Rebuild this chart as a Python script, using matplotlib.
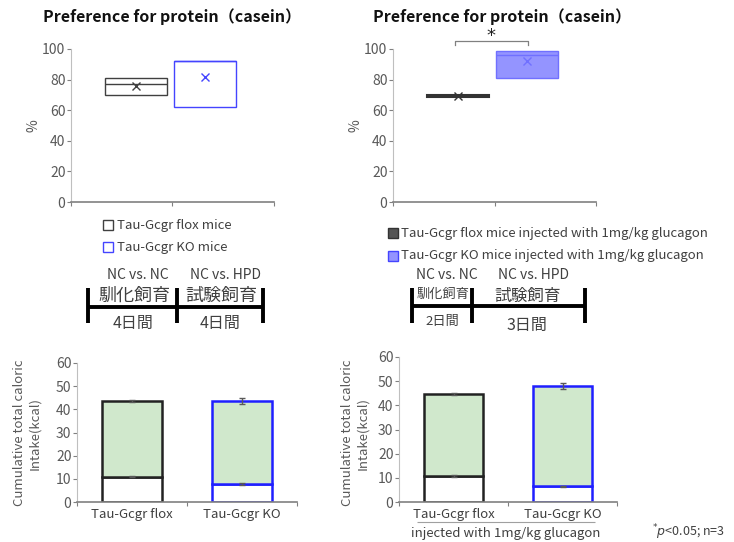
import matplotlib
matplotlib.use("Agg")
import matplotlib.pyplot as plt
from matplotlib.patches import Rectangle

plt.rcParams["font.family"] = ["Noto Sans CJK JP", "DejaVu Sans"]

# preference for protein (box plots)
pref_labels_a = ["Tau-Gcgr flox mice", "Tau-Gcgr KO mice"]
pref_q1_a = [70, 62]
pref_med_a = [77, 92]
pref_q3_a = [81, 92]
pref_mean_a = [76, 82]

pref_labels_b = ["Tau-Gcgr flox mice injected with 1mg/kg glucagon",
                 "Tau-Gcgr KO mice injected with 1mg/kg glucagon"]
pref_q1_b = [68.5, 81]
pref_med_b = [69.5, 96]
pref_q3_b = [70, 99]
pref_mean_b = [69, 92]

# cumulative caloric intake (stacked bars)
groups = ["Tau-Gcgr flox", "Tau-Gcgr KO"]
nc_a = [11.0, 7.9]
nc_err_a = [0.3, 0.5]
total_a = [43.6, 43.6]
total_err_a = [0.3, 1.1]
nc_b = [10.7, 6.5]
nc_err_b = [0.4, 0.3]
total_b = [44.7, 48.0]
total_err_b = [0.4, 1.2]

W, H = 734, 542
TXT = "#404040"
BLUE = "#1f1fff"
GREEN = "#d0e8cc"


def rect(x0, y0, x1, y1):
    return [x0 / W, 1 - y1 / H, (x1 - x0) / W, (y1 - y0) / H]


def style(ax, ymax, step):
    for s in ["top", "right"]:
        ax.spines[s].set_visible(False)
    ax.spines["left"].set_color("#bfbfbf")
    ax.spines["bottom"].set_color("#808080")
    ax.spines["bottom"].set_linewidth(1.2)
    ax.set_ylim(0, ymax)
    ax.set_yticks(range(0, ymax + 1, step))
    ax.tick_params(axis="y", colors="#808080", labelcolor="#595959",
                   labelsize=10, length=3, pad=1)
    ax.tick_params(axis="x", colors="#808080", length=3)
    ax.set_xlim(0, 2)
    ax.set_xticks([0, 1, 2])
    ax.set_xticklabels([])


fig = plt.figure(figsize=(W / 100, H / 100), dpi=100)
ov = fig.add_axes([0, 0, 1, 1])
ov.set_xlim(0, W)
ov.set_ylim(H, 0)
ov.axis("off")


def boxes(ax, q1, med, q3, mean, faces, edges, lw):
    stats = [dict(q1=a, med=m, q3=b, whislo=a, whishi=b, mean=mu, fliers=[])
             for a, m, b, mu in zip(q1, med, q3, mean)]
    res = ax.bxp(stats, positions=[0.64, 1.32], widths=0.61, showmeans=True,
                 showcaps=False, patch_artist=True, manage_ticks=False)
    for i in range(len(stats)):
        res["boxes"][i].set(facecolor=faces[i], edgecolor=edges[i], linewidth=lw[i])
        res["medians"][i].set(color=edges[i], linewidth=lw[i])
        res["means"][i].set(marker="x", markeredgecolor=edges[i],
                            markerfacecolor=edges[i], markersize=6)
    for w in res["whiskers"]:
        w.set_visible(False)


ax1 = fig.add_axes(rect(71, 49, 274, 202))
style(ax1, 100, 20)
boxes(ax1, pref_q1_a, pref_med_a, pref_q3_a, pref_mean_a,
      ["white", "white"], ["#404040", "#4444ff"], [1.0, 1.0])

ax2 = fig.add_axes(rect(393, 49, 596, 202))
style(ax2, 100, 20)
boxes(ax2, pref_q1_b, pref_med_b, pref_q3_b, pref_mean_b,
      ["#555555", "#9494ff"], ["#333333", "#7070ff"], [1.5, 1.0])
ax2.plot([0.61, 0.61, 1.33, 1.33], [102.8, 105.3, 105.3, 102.8],
         color="#808080", lw=0.9, clip_on=False)
ax2.text(0.97, 108.5, "*", ha="center", va="center", fontsize=13,
         color="#222222", family="DejaVu Sans")

for x, y in [(43, 17), (373, 17)]:
    ov.text(x, y, "Preference for protein（casein）", fontsize=11.5,
            fontweight="bold", ha="left", va="center", color="#111111")
for x in [34, 356]:
    ov.text(x, 126, "%", rotation=90, fontsize=10, ha="center", va="center",
            color="#595959")

# legends
leg_a = [("white", "#404040"), ("white", "#4444ff")]
for i, (lab, (fc, ec)) in enumerate(zip(pref_labels_a, leg_a)):
    y = 225 + 22 * i
    ov.add_patch(Rectangle((103, y - 5), 10, 10, facecolor=fc, edgecolor=ec, lw=1))
    ov.text(117, y, lab, fontsize=9.5, ha="left", va="center", color=TXT)
leg_b = [("#555555", "#333333"), ("#9494ff", "#4444ff")]
for i, (lab, (fc, ec)) in enumerate(zip(pref_labels_b, leg_b)):
    y = 233 + 23 * i
    ov.add_patch(Rectangle((388, y - 5), 10, 10, facecolor=fc, edgecolor=ec, lw=1))
    ov.text(401, y, lab, fontsize=9.5, ha="left", va="center", color=TXT)

# feeding timelines
for xs, yh in [([88, 177, 263], 307), ([412, 472, 585], 306)]:
    ov.vlines(xs, 288, 323, color="black", lw=2.8)
    ov.hlines(yh, xs[0], xs[-1], color="black", lw=2.8)
tl = [(138, 275, "NC vs. NC", 10), (226, 275, "NC vs. HPD", 10),
      (134, 296, "馴化飼育", 13), (221, 296, "試験飼育", 13),
      (133, 323, "4日間", 11.5), (220, 323, "4日間", 11.5),
      (447, 275, "NC vs. NC", 10), (533, 275, "NC vs. HPD", 10),
      (443, 294, "馴化飼育", 9.5), (528, 296, "試験飼育", 12),
      (442, 322, "2日間", 9.5), (527, 325, "3日間", 11.5)]
for x, y, s, fs in tl:
    ov.text(x, y, s, fontsize=fs, ha="center", va="center", color=TXT)


def stacked(ax, nc, nc_err, tot, tot_err):
    xs = [0.5, 1.5]
    edges = ["#222222", BLUE]
    top = [t - n for t, n in zip(tot, nc)]
    ax.bar(xs, nc, width=0.55, color="white", edgecolor=edges, lw=1.8, zorder=2)
    ax.bar(xs, top, bottom=nc, width=0.55, color=GREEN, edgecolor=edges, lw=1.8,
           zorder=2)
    ax.errorbar(xs, nc, yerr=nc_err, fmt="none", ecolor="#595959", capsize=2,
                lw=1, zorder=3)
    ax.errorbar(xs, tot, yerr=tot_err, fmt="none", ecolor="#595959", capsize=2,
                lw=1, zorder=3)
    ax.set_xticks(xs, minor=True)
    ax.set_xticklabels(groups, minor=True, fontsize=9.5, color=TXT)
    ax.tick_params(axis="x", which="minor", length=0, pad=4)


ax3 = fig.add_axes(rect(77, 363, 297, 502))
style(ax3, 60, 10)
stacked(ax3, nc_a, nc_err_a, total_a, total_err_a)

ax4 = fig.add_axes(rect(399, 357, 617, 502))
style(ax4, 60, 10)
stacked(ax4, nc_b, nc_err_b, total_b, total_err_b)

for x in [27, 355]:
    ov.text(x, 433, "Cumulative total caloric\nIntake(kcal)", rotation=90,
            fontsize=9.5, ha="center", va="center", color="#595959",
            linespacing=1.2)

ov.hlines(522, 417, 595, color="#a0a0a0", lw=0.8)
ov.text(506, 533, "injected with 1mg/kg glucagon", fontsize=9.5, ha="center",
        va="center", color=TXT)
ov.text(652, 532, r"$^{*}$$\it{p}$<0.05; n=3", fontsize=9, ha="left",
        va="center", color=TXT)

fig.savefig("out.png", dpi=100)
